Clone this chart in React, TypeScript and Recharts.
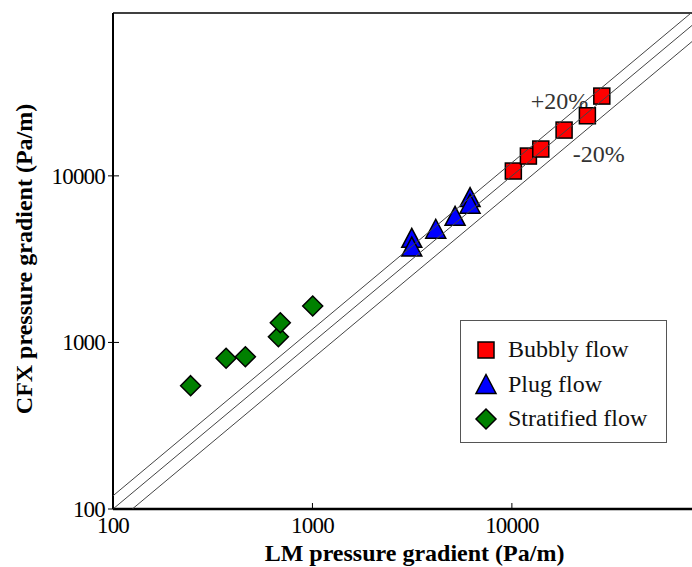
import React from "react";
import {
  ScatterChart,
  Scatter,
  XAxis,
  YAxis,
  Legend,
  Label,
  ReferenceLine,
} from "recharts";

// readings (Pa/m)
const bubblyLM = [10170, 12100, 13960, 18270, 23910, 28240];
const bubblyCFX = [10690, 13150, 14490, 18830, 22950, 30130];

const plugLM = [3148, 3148, 4152, 5190, 6170, 6170];
const plugCFX = [4217, 3737, 4780, 5715, 7410, 6752];

const stratLM = [245, 369, 461, 675, 690, 1003];
const stratCFX = [550, 803, 820, 1082, 1313, 1654];

const xTicks = [100, 1000, 10000];
const yTicks = [100, 1000, 10000];
const X_DOMAIN: [number, number] = [100, 80000];
const Y_DOMAIN: [number, number] = [100, 95000];

// +20%, parity, -20%
const bandRatios = [1.2, 1, 0.8];

const annotations = [
  { x: 12440, y: 25060, text: "+20%" },
  { x: 20200, y: 12150, text: "-20%" },
];

const SERIES = [
  { name: "Bubbly flow", fill: "#ff0000", kind: "square" },
  { name: "Plug flow", fill: "#0000ff", kind: "triangle" },
  { name: "Stratified flow", fill: "#008000", kind: "diamond" },
];

const FONT = "'Liberation Serif', serif";
const serif = { fontFamily: FONT };

const zip = (xs: number[], ys: number[]) => xs.map((x, i) => ({ x, y: ys[i] }));

const bubblyData = zip(bubblyLM, bubblyCFX);
const plugData = zip(plugLM, plugCFX);
const stratData = zip(stratLM, stratCFX);

// end points of each band line, kept inside the plotted domain
const bandLine = (r: number) => {
  const x0 = Math.max(X_DOMAIN[0], Y_DOMAIN[0] / r);
  const x1 = Math.min(X_DOMAIN[1], Y_DOMAIN[1] / r);
  return [
    { x: x0, y: x0 * r },
    { x: x1, y: x1 * r },
  ];
};

function Marker({ kind, cx, cy, fill }: any) {
  if (kind === "square") {
    return (
      <rect x={cx - 8} y={cy - 8} width={16} height={16} fill={fill} stroke="#000" strokeWidth={1.5} />
    );
  }
  if (kind === "triangle") {
    return (
      <polygon
        points={`${cx},${cy - 10} ${cx + 10},${cy + 9} ${cx - 10},${cy + 9}`}
        fill={fill}
        stroke="#000"
        strokeWidth={1.5}
      />
    );
  }
  return (
    <polygon
      points={`${cx},${cy - 10} ${cx + 10},${cy} ${cx},${cy + 10} ${cx - 10},${cy}`}
      fill={fill}
      stroke="#000"
      strokeWidth={1.5}
    />
  );
}

const XTick = ({ x, y, payload }: any) => (
  <g>
    <line x1={x} x2={x} y1={y - 6} y2={y} stroke="#000" strokeWidth={1} />
    <text x={x} y={y + 24} textAnchor="middle" style={serif} fontSize={23} letterSpacing={-0.8} fill="#000">
      {payload.value}
    </text>
  </g>
);

const YTick = ({ x, y, payload }: any) => (
  <g>
    <line x1={x - 5} x2={x + 6} y1={y} y2={y} stroke="#000" strokeWidth={1} />
    <text x={x - 8} y={y + 8} textAnchor="end" style={serif} fontSize={23} letterSpacing={-0.8} fill="#000">
      {payload.value}
    </text>
  </g>
);

const LegendBox = () => (
  <div style={{ width: 205, height: 121, border: "1.5px solid #555", background: "#fff" }}>
    <svg width={205} height={121}>
      {SERIES.map((s, i) => (
        <g key={s.name}>
          <Marker kind={s.kind} cx={25} cy={29 + i * 34.5} fill={s.fill} />
          <text x={47} y={36 + i * 34.5} style={serif} fontSize={24} fill="#111">
            {s.name}
          </text>
        </g>
      ))}
    </svg>
  </div>
);

export default function App() {
  return (
    <div style={{ width: 692, height: 567 }}>
      <style>{"body{margin:0;overflow:hidden;background:#fff}"}</style>
      <ScatterChart width={692} height={567} margin={{ top: 13, right: 0, bottom: 0, left: 0 }}>
        <XAxis
          type="number"
          dataKey="x"
          scale="log"
          domain={X_DOMAIN}
          allowDataOverflow
          ticks={xTicks}
          interval={0}
          height={58}
          tickSize={0}
          tickMargin={0}
          tickLine={false}
          tick={<XTick />}
          axisLine={{ stroke: "#000", strokeWidth: 2.5 }}
        >
          <Label
            content={({ viewBox }: any) => (
              <text
                x={viewBox.x + viewBox.width / 2 + 12}
                y={viewBox.y + 52}
                textAnchor="middle"
                style={serif}
                fontSize={24}
                fontWeight="bold"
                fill="#000"
              >
                LM pressure gradient (Pa/m)
              </text>
            )}
          />
        </XAxis>
        <YAxis
          type="number"
          dataKey="y"
          scale="log"
          domain={Y_DOMAIN}
          allowDataOverflow
          ticks={yTicks}
          interval={0}
          width={113}
          tickSize={0}
          tickMargin={0}
          tickLine={false}
          tick={<YTick />}
          axisLine={{ stroke: "#000", strokeWidth: 2 }}
        >
          <Label
            content={({ viewBox }: any) => {
              const cx = 24;
              const cy = viewBox.y + viewBox.height / 2 - 2;
              return (
                <text
                  x={cx}
                  y={cy}
                  transform={`rotate(-90 ${cx} ${cy})`}
                  textAnchor="middle"
                  dominantBaseline="central"
                  style={serif}
                  fontSize={24}
                  fontWeight="bold"
                  fill="#000"
                >
                  CFX pressure gradient (Pa/m)
                </text>
              );
            }}
          />
        </YAxis>

        <ReferenceLine y={Y_DOMAIN[1]} stroke="#000" strokeWidth={1.5} />

        <Scatter
          data={annotations}
          isAnimationActive={false}
          shape={(p: any) => (
            <text x={p.cx} y={p.cy} style={serif} fontSize={24} fill="#333">
              {p.payload.text}
            </text>
          )}
        />

        <Scatter
          name={SERIES[2].name}
          data={stratData}
          isAnimationActive={false}
          shape={(p: any) => <Marker kind="diamond" cx={p.cx} cy={p.cy} fill={SERIES[2].fill} />}
        />
        <Scatter
          name={SERIES[1].name}
          data={plugData}
          isAnimationActive={false}
          shape={(p: any) => <Marker kind="triangle" cx={p.cx} cy={p.cy} fill={SERIES[1].fill} />}
        />
        <Scatter
          name={SERIES[0].name}
          data={bubblyData}
          isAnimationActive={false}
          shape={(p: any) => <Marker kind="square" cx={p.cx} cy={p.cy} fill={SERIES[0].fill} />}
        />

        {bandRatios.map((r) => (
          <Scatter
            key={r}
            data={bandLine(r)}
            isAnimationActive={false}
            line={{ stroke: "#444", strokeWidth: 1 }}
            lineType="joint"
            shape={() => <g />}
          />
        ))}

        <Legend
          layout="horizontal"
          verticalAlign="middle"
          align="center"
          content={() => <LegendBox />}
          wrapperStyle={{ position: "absolute", left: 460, top: 319.5, width: "auto", height: "auto" }}
        />
      </ScatterChart>
    </div>
  );
}
